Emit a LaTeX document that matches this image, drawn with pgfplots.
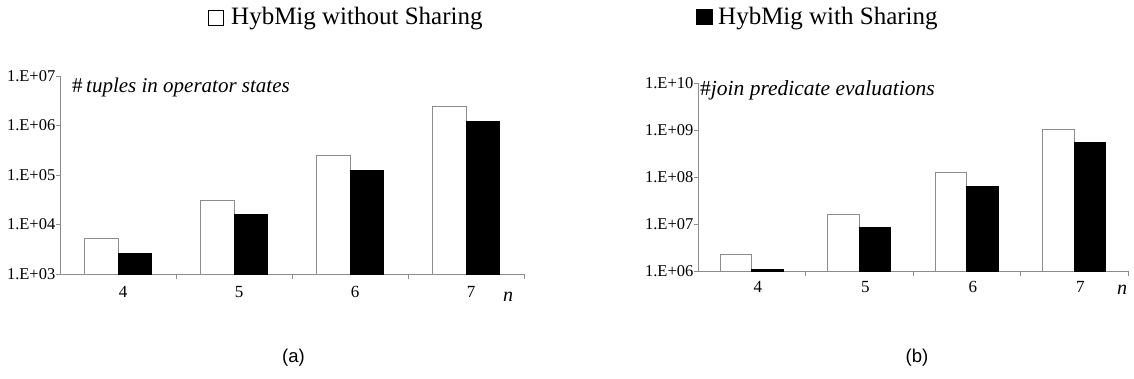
\documentclass[border=0pt]{standalone}
\usepackage{pgfplots}
\pgfplotsset{compat=1.18}
\usepackage{fontspec}
\setmainfont{Liberation Serif}
\newfontfamily\capfont{Liberation Sans}

\tikzset{
  nosh/.style={fill=white, draw=black!45, line width=0.9pt},
  sh/.style={fill=black, draw=black, line width=0.9pt},
}

\begin{document}
\begin{tikzpicture}[x=1pt,y=1pt]
\useasboundingbox (0,0) rectangle (1134,-379);

% (a) tuples held in operator states
\begin{axis}[
  scale only axis,
  anchor=south west,
  at={(60pt,-274pt)},
  width=464pt, height=198pt,
  ymode=log,
  log origin=infty,
  ybar=0pt,
  bar width=33.5pt,
  xmin=0.5, xmax=4.5,
  ymin=1e3, ymax=1e7,
  xtick={1,2,3,4},
  xticklabels={4,5,6,7},
  major x tick style={draw=none},
  minor xtick={1.5,2.5,3.5,4.5},
  minor tick length=5pt,
  minor x tick style={black!45},
  major tick length=4pt,
  y tick style={black!45},
  yminorticks=false,
  axis x line*=bottom,
  axis y line*=left,
  axis line style={black!45, -, line width=0.9pt},
  tick align=outside,
  clip=false,
  ytick={1e3,1e4,1e5,1e6,1e7},
  yticklabels={1.E+03,1.E+04,1.E+05,1.E+06,1.E+07},
  yticklabel style={font=\fontsize{16.5}{16.5}\selectfont, inner sep=0.5pt},
  xticklabel style={font=\fontsize{17}{17}\selectfont, xshift=5pt, yshift=-5pt},
]
\addplot[nosh] coordinates {(1,5300) (2,31000) (3,244000) (4,2400000)};
\addplot[sh] coordinates {(1,2600) (2,16000) (3,121000) (4,1210000)};
\end{axis}

% (b) join predicate evaluations
\begin{axis}[
  scale only axis,
  anchor=south west,
  at={(698pt,-271pt)},
  width=430pt, height=188pt,
  ymode=log,
  log origin=infty,
  ybar=0pt,
  bar width=31.5pt,
  xmin=0.5, xmax=4.5,
  ymin=1e6, ymax=1e10,
  xtick={1,2,3,4},
  xticklabels={4,5,6,7},
  major x tick style={draw=none},
  minor xtick={1.5,2.5,3.5,4.5},
  minor tick length=5pt,
  minor x tick style={black!45},
  major tick length=4pt,
  y tick style={black!45},
  yminorticks=false,
  axis x line*=bottom,
  axis y line*=left,
  axis line style={black!45, -, line width=0.9pt},
  tick align=outside,
  clip=false,
  ytick={1e6,1e7,1e8,1e9,1e10},
  yticklabels={1.E+06,1.E+07,1.E+08,1.E+09,1.E+10},
  yticklabel style={font=\fontsize{16.5}{16.5}\selectfont, inner sep=0.5pt},
  xticklabel style={font=\fontsize{17}{17}\selectfont, xshift=6pt, yshift=-3pt},
]
\addplot[nosh] coordinates {(1,2250000) (2,16300000) (3,126000000) (4,1030000000)};
\addplot[sh] coordinates {(1,1100000) (2,8400000) (3,63500000) (4,540000000)};
\end{axis}

% panel annotations
\node[anchor=west, inner sep=0pt] at (72,-87)
  {\fontsize{21}{21}\selectfont \#\,\textit{tuples in operator states}};
\node[anchor=west, inner sep=0pt] at (700,-90)
  {\fontsize{21.5}{21.5}\selectfont \#\textit{join predicate evaluations}};
\node[inner sep=0pt] at (508,-297) {\fontsize{20}{20}\selectfont\textit{n}};
\node[inner sep=0pt] at (1122,-290) {\fontsize{20}{20}\selectfont\textit{n}};

% legend
\draw[black, line width=1pt, fill=white] (208.5,-11) rectangle (223.5,-25.5);
\node[anchor=base west, inner sep=0pt] at (231,-25)
  {\fontsize{25}{25}\selectfont HybMig without Sharing};
\fill[black] (696,-9.5) rectangle (713,-25.5);
\node[anchor=base west, inner sep=0pt] at (718,-25)
  {\fontsize{25}{25}\selectfont HybMig with Sharing};

% panel captions
\node[inner sep=0pt] at (293.5,-358) {\capfont\fontsize{18.5}{18.5}\selectfont (a)};
\node[inner sep=0pt] at (917,-358) {\capfont\fontsize{18.5}{18.5}\selectfont (b)};
\end{tikzpicture}
\end{document}
